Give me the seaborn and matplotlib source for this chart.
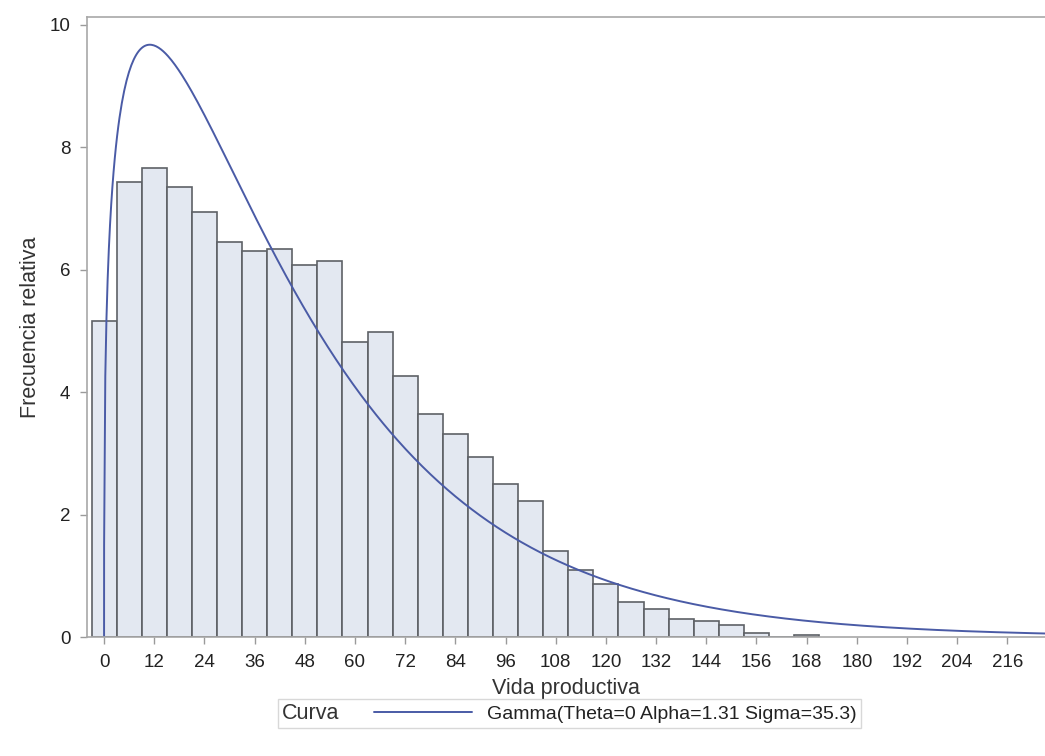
import math
import numpy as np
import pandas as pd
import matplotlib
matplotlib.use("Agg")
import matplotlib.pyplot as plt
import seaborn as sns

# Histogram data: bin midpoints (width 6) and relative frequency (%)
midpoints = [0, 6, 12, 18, 24, 30, 36, 42, 48, 54, 60, 66, 72, 78, 84, 90, 96,
             102, 108, 114, 120, 126, 132, 138, 144, 150, 156, 162, 168]
rel_freq = [5.16, 7.43, 7.66, 7.35, 6.94, 6.45, 6.31, 6.34, 6.08, 6.14, 4.82, 4.98,
            4.26, 3.64, 3.32, 2.94, 2.50, 2.22, 1.41, 1.09, 0.87, 0.57, 0.46, 0.29,
            0.26, 0.20, 0.07, 0.0, 0.03]
bin_width = 6

# Fitted gamma parameters (from legend)
theta = 0
alpha = 1.31
sigma = 35.3
curve_label = "Gamma(Theta=0 Alpha=1.31 Sigma=35.3)"

x_ticks = list(range(0, 217, 12))
y_ticks = [0, 2, 4, 6, 8, 10]

sns.set_theme(style="white")
plt.rcParams["font.family"] = ["Liberation Sans", "DejaVu Sans"]

df = pd.DataFrame({"vida": midpoints, "freq": rel_freq})

fig = plt.figure(figsize=(10.45, 7.56), dpi=100)
ax = fig.add_axes([0.0833, 0.1574, 0.9167, 0.8201])

edges = [m - bin_width / 2 for m in midpoints] + [midpoints[-1] + bin_width / 2]
sns.histplot(data=df, x="vida", weights="freq", bins=edges, ax=ax,
             color="#E3E8F1", edgecolor="#5E6166", linewidth=1.2, alpha=1)

# gamma density scaled to percent per bin
xs = np.linspace(theta + 0.01, 226, 800)
z = (xs - theta) / sigma
pdf = np.exp((alpha - 1) * np.log(z) - z - math.lgamma(alpha)) / sigma
ys = pdf * 100 * bin_width
xs = np.insert(xs, 0, theta)
ys = np.insert(ys, 0, 0.0)
sns.lineplot(x=xs, y=ys, ax=ax, color="#4A5BA6", linewidth=1.4, sort=False,
             label=curve_label)

ax.set_xlim(-4.07, 225)
ax.set_ylim(0, 10.13)
ax.set_xticks(x_ticks)
ax.set_yticks(y_ticks)
ax.tick_params(axis="both", which="both", direction="out", length=5, width=1,
               color="#9A9A9A", labelsize=13.5, labelcolor="#222222", pad=7,
               bottom=True, left=True)
for s in ax.spines.values():
    s.set_color("#A8A8A8")
    s.set_linewidth(1.2)
ax.spines["right"].set_visible(False)

ax.set_xlabel("Vida productiva", fontsize=15.5, color="#333333", labelpad=5)
ax.set_ylabel("Frecuencia relativa", fontsize=15.5, color="#333333", labelpad=6)

ax.get_legend().remove()
h, l = ax.get_legend_handles_labels()
leg = fig.legend(h, l, title="Curva", loc="center", bbox_to_anchor=(0.545, 0.056),
                 fontsize=14, title_fontsize=15.5, frameon=True, fancybox=False,
                 handlelength=5, handletextpad=0.8, borderpad=0.2,
                 edgecolor="#CFCFCF")
leg.get_frame().set_linewidth(1.0)
leg.get_title().set_color("#333333")
for t in leg.get_texts():
    t.set_color("#222222")
# put legend title on the same row as the entry
c = leg.get_children()[0]
title_box = c.get_children()[0]
hpack = c.get_children()[1]
c._children = [hpack]
hpack._children = [title_box] + hpack.get_children()
hpack.sep = 25

fig.savefig("out.png", dpi=100)
